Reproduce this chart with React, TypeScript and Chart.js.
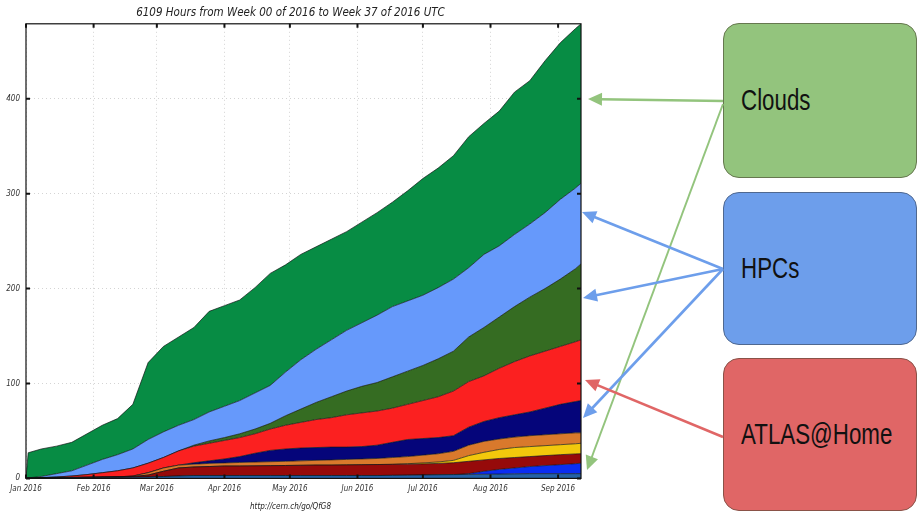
import React, { useEffect, useRef } from "react";
import { Chart, registerables } from "chart.js";

Chart.register(...registerables);

const TITLE = "6109 Hours from Week 00 of 2016 to Week 37 of 2016 UTC";
const FOOTER = "http://cern.ch/go/QfG8";

// day offsets from 1 Jan 2016
const days = [0, 1, 7, 14, 21, 28, 35, 42, 49, 56, 63, 70, 77, 84, 91, 98, 105, 112, 119, 126, 133, 140, 147, 154, 161, 168, 175, 182, 189, 196, 203, 210, 217, 224, 231, 238, 245, 252, 254.5];
const monthTickDays = [0, 31, 60, 91, 121, 152, 182, 213, 244];
const monthTickLabels = ["Jan 2016", "Feb 2016", "Mar 2016", "Apr 2016", "May 2016", "Jun 2016", "Jul 2016", "Aug 2016", "Sep 2016"];
const yTicks = [0, 100, 200, 300, 400];

// cumulative upper edges of each stacked band (bottom to top)
const steelTop = [0, 0, 0.3, 0.5, 0.6, 0.8, 1, 1, 1.2, 1.5, 2, 2.5, 3, 3, 3, 3, 3, 3, 3, 3, 3, 3, 3, 3, 3, 3.2, 3.4, 3.6, 3.8, 4, 4.2, 4.4, 4.6, 4.8, 5, 5, 5, 5, 5];
const blueTop = [0, 0, 0.3, 0.5, 0.6, 0.8, 1, 1, 1.2, 1.5, 2, 2.5, 3, 3, 3, 3, 3, 3, 3, 3, 3, 3, 3, 3, 3, 3.2, 3.4, 3.6, 3.8, 4, 5, 7.5, 9.5, 11, 12.5, 13.5, 14.5, 15.5, 16];
const maroonTop = [0, 0.2, 0.5, 0.8, 1, 1.2, 1.4, 1.6, 2, 3.5, 7.5, 11, 12, 12.5, 13, 13, 13.2, 13.4, 13.6, 13.8, 14, 14, 14.2, 14.4, 14.6, 14.8, 15, 15.3, 15.8, 16.5, 18, 19.5, 21, 22, 23, 24, 25, 25.8, 26];
const yellowTop = [0, 0.2, 0.5, 0.8, 1, 1.2, 1.4, 1.6, 2, 3.5, 7.5, 11, 12, 12.5, 13, 13, 13.2, 13.4, 13.6, 13.8, 14, 14, 14.2, 14.4, 14.6, 14.8, 15.5, 16.3, 17.3, 19, 24, 27.5, 30.5, 32.5, 33.5, 34.5, 35.5, 36.5, 37];
const orangeTop = [0, 0.2, 0.5, 0.8, 1, 1.2, 1.4, 1.6, 2.5, 6, 11, 14, 15, 15.8, 16.3, 16.8, 17.2, 17.6, 18, 18.5, 19, 19.5, 20, 20.5, 21, 22, 23, 24.5, 26, 28.5, 35, 39, 41.5, 43.5, 45, 46, 47, 48, 48];
const navyTop = [0, 0.2, 0.5, 0.8, 1, 1.2, 1.4, 1.6, 2.5, 6, 11, 14, 16.5, 18.5, 20.5, 23, 26.5, 29.5, 31, 32, 32.5, 33, 33, 33.5, 35, 38, 41, 42, 43, 45, 54, 60, 64, 67, 70, 74, 78, 81, 82];
const redTop = [0, 0.2, 0.8, 1.5, 2.5, 4, 6, 8, 11, 16, 22, 29, 34, 37, 40, 43, 47, 52, 56, 59, 62, 64, 67, 69, 71, 74, 78, 82, 86, 92, 102, 108, 116, 123, 129, 134, 139, 144, 146];
const darkGreenTop = [0, 0.2, 0.8, 1.5, 2.5, 4, 6, 8, 11, 16, 22, 29, 35, 39.5, 43, 47, 52, 58, 66, 73, 80, 86, 92, 97, 101, 107, 113, 119, 126, 134, 149, 159, 170, 181, 191, 200, 210, 221, 226];
const lightBlueTop = [0, 0.5, 2, 5, 8, 14, 20, 25, 31, 41, 49, 56, 62, 70, 76, 82, 90, 98, 112, 125, 136, 146, 156, 164, 172, 181, 187, 193, 201, 210, 222, 236, 245, 257, 268, 280, 294, 306, 311];
const greenTop = [0, 27, 31, 34, 38, 47, 56, 63, 78, 122, 139, 149, 159, 176, 182, 188, 201, 216, 225, 236, 244, 252, 260, 270, 280, 291, 303, 316, 327, 340, 360, 374, 387, 407, 419, 440, 459, 474, 479];

const bands = [
  { name: "steel", values: steelTop, color: "#2462a6" },
  { name: "blue", values: blueTop, color: "#0b2df2" },
  { name: "maroon", values: maroonTop, color: "#960a0a" },
  { name: "yellow", values: yellowTop, color: "#f2c80c" },
  { name: "orange", values: orangeTop, color: "#d9792c" },
  { name: "navy", values: navyTop, color: "#05057a" },
  { name: "red", values: redTop, color: "#fb2020" },
  { name: "darkgreen", values: darkGreenTop, color: "#356c22" },
  { name: "lightblue", values: lightBlueTop, color: "#6699fb" },
  { name: "green", values: greenTop, color: "#078c44" },
];

const AXIS_FONT = "'DejaVu Sans Condensed', 'Liberation Sans Narrow', 'DejaVu Sans', sans-serif";

const framePlugin = {
  id: "frame",
  afterDraw(chart: any) {
    const { ctx, chartArea, scales } = chart;
    const { left, right, top, bottom } = chartArea;
    ctx.save();
    ctx.strokeStyle = "#111";
    ctx.lineWidth = 1.2;
    ctx.strokeRect(left, top, right - left, bottom - top);
    ctx.lineWidth = 2;
    ctx.beginPath();
    monthTickDays.forEach((d) => {
      const px = scales.x.getPixelForValue(d);
      ctx.moveTo(px, bottom);
      ctx.lineTo(px, bottom - 4);
      ctx.moveTo(px, top);
      ctx.lineTo(px, top + 4);
    });
    yTicks.forEach((v) => {
      const py = scales.y.getPixelForValue(v);
      ctx.moveTo(left, py);
      ctx.lineTo(left + 4, py);
      ctx.moveTo(right, py);
      ctx.lineTo(right - 4, py);
    });
    ctx.stroke();
    ctx.restore();
  },
};

type Arrow = { x1: number; y1: number; x2: number; y2: number; color: string; w: number };

const arrows: Arrow[] = [
  { x1: 723, y1: 101, x2: 588, y2: 99, color: "#93c47d", w: 2.6 },
  { x1: 723, y1: 104, x2: 587, y2: 470, color: "#93c47d", w: 2 },
  { x1: 723, y1: 269, x2: 582, y2: 212, color: "#6d9eeb", w: 2.6 },
  { x1: 723, y1: 269, x2: 583, y2: 298, color: "#6d9eeb", w: 2.6 },
  { x1: 723, y1: 269, x2: 583, y2: 418, color: "#6d9eeb", w: 2.6 },
  { x1: 723, y1: 437, x2: 585, y2: 380, color: "#e06666", w: 2.6 },
];

function ArrowShape({ a }: { a: Arrow }) {
  const dx = a.x2 - a.x1;
  const dy = a.y2 - a.y1;
  const len = Math.sqrt(dx * dx + dy * dy);
  const ux = dx / len;
  const uy = dy / len;
  const hl = 14;
  const hw = 6.5;
  const bx = a.x2 - ux * hl;
  const by = a.y2 - uy * hl;
  const p1 = `${a.x2},${a.y2}`;
  const p2 = `${bx - uy * hw},${by + ux * hw}`;
  const p3 = `${bx + uy * hw},${by - ux * hw}`;
  return (
    <g>
      <line x1={a.x1} y1={a.y1} x2={bx + ux * 2} y2={by + uy * 2} stroke={a.color} strokeWidth={a.w} />
      <polygon points={`${p1} ${p2} ${p3}`} fill={a.color} />
    </g>
  );
}

const boxes = [
  { label: "Clouds", top: 23, height: 155, fill: "#93c47d", border: "#66784f" },
  { label: "HPCs", top: 192, height: 153, fill: "#6d9eeb", border: "#4f6890" },
  { label: "ATLAS@Home", top: 358, height: 153, fill: "#e06666", border: "#8a5248" },
];

export default function App() {
  const canvasRef = useRef<HTMLCanvasElement | null>(null);

  useEffect(() => {
    const canvas = canvasRef.current;
    if (!canvas) return;
    const datasets = bands.map((b, i) => ({
      label: b.name,
      data: days.map((d, k) => ({ x: d, y: b.values[k] })),
      backgroundColor: b.color,
      borderColor: "rgba(15,20,20,0.85)",
      borderWidth: 0.8,
      pointRadius: 0,
      tension: 0,
      fill: i === 0 ? "origin" : "-1",
    }));
    const tickFont = { family: AXIS_FONT, size: 8, style: "italic" as const };
    const chart = new Chart(canvas, {
      type: "line",
      data: { datasets: datasets as any },
      options: {
        responsive: false,
        animation: false,
        events: [],
        layout: { padding: { left: 0, right: 25, top: 0, bottom: 0 } },
        plugins: {
          legend: { display: false },
          tooltip: { enabled: false },
          title: {
            display: true,
            text: TITLE,
            color: "#222",
            font: { family: AXIS_FONT, size: 11.5, style: "italic", weight: "normal" },
            padding: { top: 6, bottom: 4 },
          },
          subtitle: {
            display: true,
            position: "bottom",
            text: FOOTER,
            color: "#222",
            font: { family: AXIS_FONT, size: 8, style: "italic", weight: "normal" },
            padding: { top: 4, bottom: 1 },
          },
        },
        scales: {
          x: {
            type: "linear",
            min: 0,
            max: 254.5,
            afterBuildTicks: (s: any) => {
              s.ticks = monthTickDays.map((v) => ({ value: v }));
            },
            afterFit: (s: any) => {
              s.height = 20;
            },
            ticks: {
              autoSkip: false,
              maxRotation: 0,
              padding: 6,
              color: "#333",
              font: tickFont,
              callback: (_v: any, idx: number) => monthTickLabels[idx],
            },
            grid: { color: "#d4d4d4", drawTicks: false, lineWidth: 1 },
            border: { display: false, dash: [1, 3] },
          },
          y: {
            type: "linear",
            min: 0,
            max: 479,
            afterBuildTicks: (s: any) => {
              s.ticks = yTicks.map((v) => ({ value: v }));
            },
            afterFit: (s: any) => {
              s.width = 26;
            },
            ticks: {
              padding: 6,
              color: "#333",
              font: tickFont,
              callback: (v: any) => String(v),
            },
            grid: { color: "#d4d4d4", drawTicks: false, lineWidth: 1 },
            border: { display: false, dash: [1, 3] },
          },
        },
      } as any,
      plugins: [framePlugin],
    });
    return () => chart.destroy();
  }, []);

  return (
    <div style={{ position: "fixed", left: 0, top: 0, width: 919, height: 513, background: "#fff", overflow: "hidden" }}>
      <canvas ref={canvasRef} width={606} height={513} style={{ position: "absolute", left: 0, top: 0, width: 606, height: 513 }} />
      {boxes.map((b) => (
        <div
          key={b.label}
          style={{
            position: "absolute",
            left: 723,
            top: b.top,
            width: 194,
            height: b.height,
            boxSizing: "border-box",
            background: b.fill,
            border: `1.5px solid ${b.border}`,
            borderRadius: 16,
            display: "flex",
            alignItems: "center",
            paddingLeft: 17,
          }}
        >
          <span
            style={{
              fontFamily: "'Liberation Sans', Arial, sans-serif",
              fontSize: 29,
              color: "#111",
              display: "inline-block",
              transform: "scaleX(0.77)",
              transformOrigin: "left center",
              whiteSpace: "nowrap",
              lineHeight: 1,
            }}
          >
            {b.label}
          </span>
        </div>
      ))}
      <svg width={919} height={513} style={{ position: "absolute", left: 0, top: 0, pointerEvents: "none" }}>
        {arrows.map((a, i) => (
          <ArrowShape key={i} a={a} />
        ))}
      </svg>
    </div>
  );
}
